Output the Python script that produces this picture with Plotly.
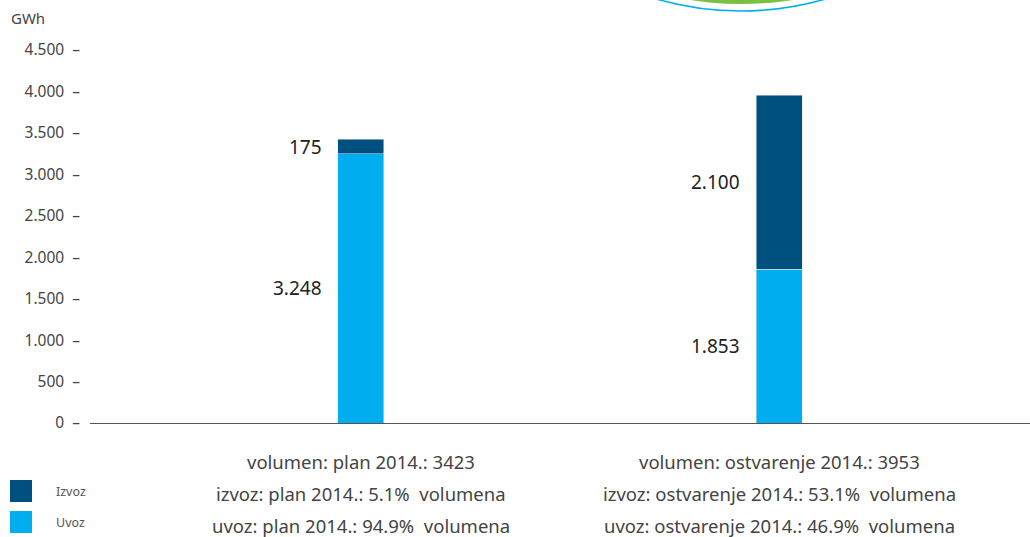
import plotly.graph_objects as go

# Trading volumes, GWh
categories = ["plan", "ostvarenje"]
series_names = ["Izvoz", "Uvoz"]
uvoz = [3248, 1853]
izvoz = [175, 2100]
colors = {"Izvoz": "#00507F", "Uvoz": "#00AEEF"}
y_ticks = [0, 500, 1000, 1500, 2000, 2500, 3000, 3500, 4000, 4500]
year = "2014."

FONT = "Noto Sans"
W, H = 1030, 537
L, R, T, B = 90, 0, 50, 114


def px_to_paper_x(px):
    return (px - L) / (W - L - R)


def px_to_paper_y(py):
    return (H - B - py) / (H - T - B)


def fmt(v):
    return f"{v:,}".replace(",", ".")


fig = go.Figure()
fig.add_trace(go.Bar(x=[0, 1], y=uvoz, name="Uvoz", marker_color=colors["Uvoz"],
                     width=0.11, showlegend=False, hoverinfo="skip"))
fig.add_trace(go.Bar(x=[0, 1], y=izvoz, name="Izvoz", marker_color=colors["Izvoz"],
                     width=0.11, showlegend=False, hoverinfo="skip"))

annotations = []
# value labels to the left of each segment
for i in range(len(categories)):
    for lo, v in ((0, uvoz[i]), (uvoz[i], izvoz[i])):
        annotations.append(dict(x=i, y=lo + v / 2, xref="x", yref="y", text=fmt(v),
                                showarrow=False, xanchor="right", yanchor="middle",
                                xshift=-37, font=dict(family=FONT, size=19, color="#222")))

# summary lines under each bar
for i, cat in enumerate(categories):
    total = uvoz[i] + izvoz[i]
    lines = [
        f"volumen: {cat} {year}: {total}",
        f"izvoz: {cat} {year}: {izvoz[i] / total * 100:.1f}%  volumena",
        f"uvoz: {cat} {year}: {uvoz[i] / total * 100:.1f}%  volumena",
    ]
    for k, line in enumerate(lines):
        annotations.append(dict(x=i, y=0, xref="x", yref="paper", text=line,
                                showarrow=False, xanchor="center", yanchor="middle",
                                yshift=-(38 + 32 * k),
                                font=dict(family=FONT, size=18.5, color="#444")))

# unit label
annotations.append(dict(x=px_to_paper_x(9), y=px_to_paper_y(18), xref="paper", yref="paper",
                        text="GWh", showarrow=False, xanchor="left", yanchor="middle",
                        font=dict(family=FONT, size=15, color="#444")))

shapes = []
# legend
for k, name in enumerate(series_names):
    top = 480 + 31 * k
    shapes.append(dict(type="rect", xref="paper", yref="paper",
                       x0=px_to_paper_x(10), x1=px_to_paper_x(32),
                       y0=px_to_paper_y(top + 22), y1=px_to_paper_y(top),
                       fillcolor=colors[name], line=dict(width=0)))
    annotations.append(dict(x=px_to_paper_x(54), y=px_to_paper_y(top + 11), xref="paper",
                            yref="paper", text=name, showarrow=False, xanchor="left",
                            yanchor="middle", font=dict(family=FONT, size=12.5, color="#555")))

# logo edge at top
shapes.append(dict(type="circle", xref="paper", yref="paper",
                   x0=px_to_paper_x(437), x1=px_to_paper_x(1045),
                   y0=px_to_paper_y(11), y1=px_to_paper_y(-597),
                   fillcolor="rgba(0,0,0,0)", line=dict(color="#00AEEF", width=1.6)))
shapes.append(dict(type="circle", xref="paper", yref="paper",
                   x0=px_to_paper_x(408), x1=px_to_paper_x(1075),
                   y0=px_to_paper_y(4), y1=px_to_paper_y(-663),
                   fillcolor="#7AC143", line=dict(width=0)))

fig.update_layout(
    width=W, height=H,
    margin=dict(l=L, r=R, t=T, b=B, pad=0),
    barmode="stack",
    plot_bgcolor="white", paper_bgcolor="white",
    font=dict(family=FONT, color="#444"),
    annotations=annotations,
    shapes=shapes,
    xaxis=dict(range=[-0.648, 1.6], showticklabels=False, showgrid=False, zeroline=False,
               showline=True, linecolor="#555", linewidth=1, ticks=""),
    yaxis=dict(range=[0, 4500], tickvals=y_ticks,
               ticktext=[f"{fmt(v)}\u00a0\u00a0\u2013" for v in y_ticks],
               showgrid=False, zeroline=False, showline=False, ticks="",
               ticklabelstandoff=9, tickfont=dict(family=FONT, size=15.5, color="#444")),
)

fig.write_html("out.html")
